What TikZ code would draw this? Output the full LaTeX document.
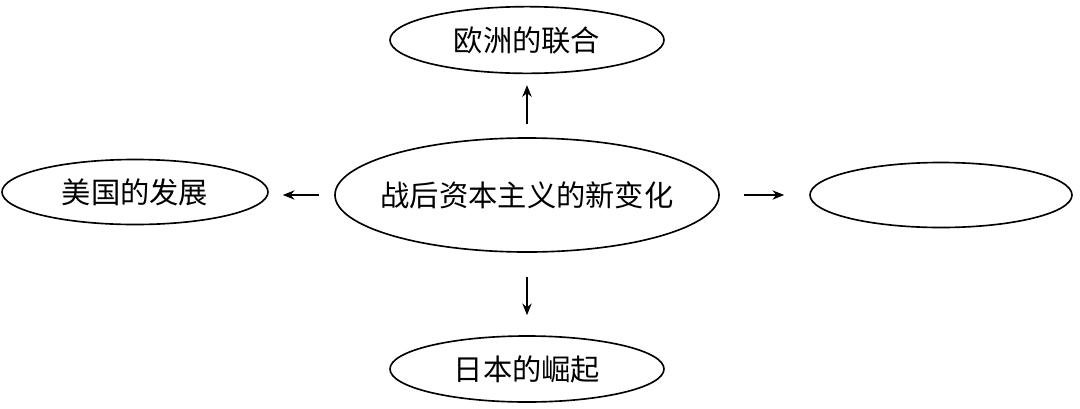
\documentclass[tikz,border=0pt]{standalone}
\usepackage{fontspec}
\newfontfamily\cjk{Noto Sans CJK SC}
\usetikzlibrary{shapes.geometric,arrows.meta}
\begin{document}
\begin{tikzpicture}[x=0.03cm,y=-0.03cm,
  oval/.style={draw,line width=1.4pt,ellipse,inner sep=0pt,font=\cjk\fontsize{25}{29}\selectfont},
  arr/.style={line width=1.4pt,-{Stealth[length=10pt,width=8pt]}}]
\useasboundingbox (0,0) rectangle (1080,408);
\node[oval,minimum width=8.22cm,minimum height=2.0cm] (top) at (527,40) {欧洲的联合};
\node[oval,minimum width=7.98cm,minimum height=1.95cm] (left) at (135,192) {美国的发展};
\node[oval,inner xsep=-45pt,inner ysep=-8pt,minimum width=11.52cm,minimum height=3.42cm] (c) at (527,195) {战后资本主义的新变化};
\node[oval,minimum width=7.86cm,minimum height=1.95cm] (right) at (941,195) {};
\node[oval,minimum width=8.22cm,minimum height=1.98cm] (bot) at (527,369) {日本的崛起};
\draw[arr,shorten <=0.39cm,shorten >=0.33cm] (c.north) -- (top.south);
\draw[arr,shorten <=0.45cm,shorten >=0.42cm] (c.west) -- (left.east |- c.west);
\draw[arr,shorten <=0.72cm,shorten >=0.75cm] (c.east) -- (right.west);
\draw[arr,shorten <=0.72cm,shorten >=0.6cm] (c.south) -- (bot.north);
\end{tikzpicture}
\end{document}
